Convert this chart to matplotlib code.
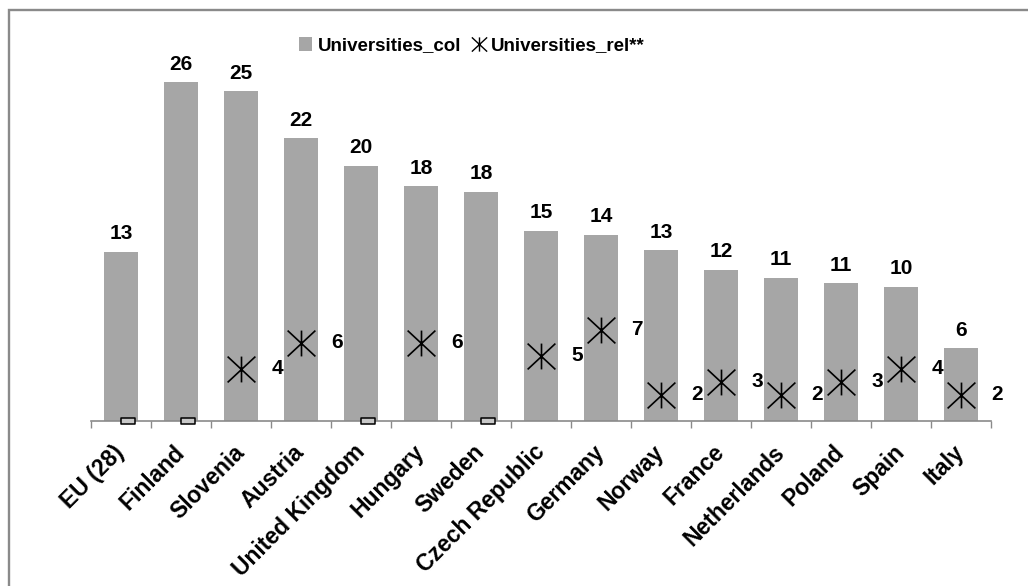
import matplotlib
matplotlib.use("Agg")
import matplotlib.pyplot as plt
from matplotlib.path import Path
from matplotlib.lines import Line2D
from matplotlib.patches import Patch, Rectangle
import numpy as np

plt.rcParams['font.family'] = ['Liberation Sans', 'DejaVu Sans']
plt.rcParams['font.weight'] = 'bold'

countries = ["EU (28)", "Finland", "Slovenia", "Austria", "United Kingdom",
             "Hungary", "Sweden", "Czech Republic", "Germany", "Norway",
             "France", "Netherlands", "Poland", "Spain", "Italy"]
universities_col = [13.0, 26.0, 25.3, 21.7, 19.6, 18.0, 17.6, 14.6, 14.3,
                    13.1, 11.6, 11.0, 10.6, 10.3, 5.6]
universities_rel = [None, None, 4, 6, None, 6, None, 5, 7, 2, 3, 2, 3, 4, 2]

BAR_COLOR = "#a6a6a6"
AXIS_GRAY = "#8a8a8a"

# Asterisk marker: an X through the corners plus a vertical stroke
star = Path([(-1, -0.93), (1, 0.93), (-1, 0.93), (1, -0.93), (0, -0.93), (0, 0.93)],
            [Path.MOVETO, Path.LINETO, Path.MOVETO, Path.LINETO, Path.MOVETO, Path.LINETO])
# Flat box used where the second series has no value
nobox = Path([(-1, -0.42), (1, -0.42), (1, 0.42), (-1, 0.42), (-1, -0.42)],
             [Path.MOVETO, Path.LINETO, Path.LINETO, Path.LINETO, Path.CLOSEPOLY])

W, H = 1028, 586
fig = plt.figure(figsize=(W / 100, H / 100), dpi=100)
ax = fig.add_axes([91 / W, (H - 421) / H, 900 / W, 391 / H])

x = np.arange(len(countries))
ax.bar(x, universities_col, width=0.56, color=BAR_COLOR, zorder=2)
for xi, v in zip(x, universities_col):
    ax.annotate(f"{v:.0f}", (xi, v), xytext=(0, 6), textcoords="offset points",
                ha="center", va="bottom", fontsize=15, fontweight="bold")

for xi, v in zip(x, universities_rel):
    if v is None:
        ax.plot(xi + 0.117, 0, marker=nobox, markersize=10.5, color="black",
                markerfacecolor="#c8c8c8", markeredgewidth=1.1, linestyle="none",
                zorder=4, clip_on=False)
    else:
        ax.plot(xi, v, marker=star, markersize=20, color="black",
                markeredgewidth=1.2, linestyle="none", zorder=3)
        ax.annotate(f"{v}", (xi, v), xytext=(26, 0), textcoords="offset points",
                    ha="center", va="center", fontsize=15, fontweight="bold")

ax.set_xlim(-0.5, len(countries) - 0.5)
ax.set_ylim(0, 30)
ax.set_yticks([])
for s in ("left", "right", "top"):
    ax.spines[s].set_visible(False)
ax.spines["bottom"].set_color(AXIS_GRAY)
ax.spines["bottom"].set_linewidth(1.2)

ax.set_xticks(x)
ax.set_xticklabels(countries, rotation=45, ha="right", va="center",
                   rotation_mode="anchor", fontsize=16.5, fontweight="bold")
ax.tick_params(axis="x", which="major", length=0, pad=20)
ax.set_xticks(np.arange(len(countries) + 1) - 0.5, minor=True)
ax.tick_params(axis="x", which="minor", length=5, width=1, color=AXIS_GRAY)

handles = [Patch(facecolor=BAR_COLOR, edgecolor="none", label="Universities_col"),
           Line2D([], [], marker=star, markersize=11, color="black",
                  markeredgewidth=1.0, linestyle="none", label="Universities_rel**")]
fig.legend(handles=handles, loc="center", ncol=2, frameon=False,
           bbox_to_anchor=(472 / W, 1 - 46 / H),
           handlelength=0.7, handleheight=0.7, handletextpad=0.3,
           columnspacing=0.6, prop={"weight": "bold", "size": 13.5})

# Chart frame (left and top edges visible)
fig.patches.append(Rectangle((9 / W, -0.1), 1.5, 1.1 - 10 / H, transform=fig.transFigure,
                             fill=False, edgecolor=AXIS_GRAY, linewidth=1.7))

fig.savefig("out.png", dpi=100)
